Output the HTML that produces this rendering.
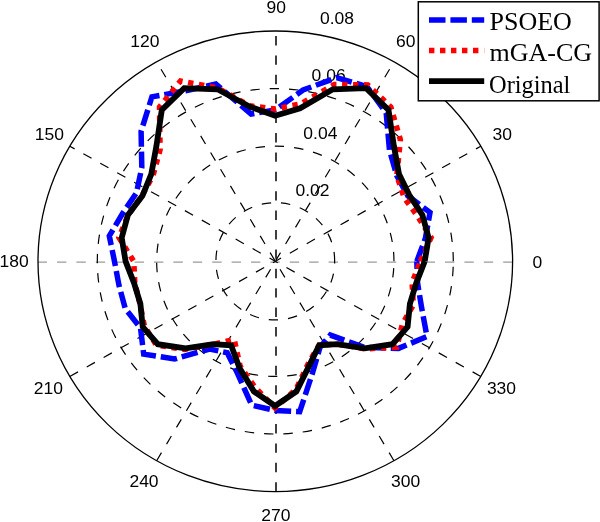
<!DOCTYPE html>
<html><head><meta charset="utf-8"><title>Polar plot</title>
<style>html,body{margin:0;padding:0;background:#fff;}body{width:600px;height:522px;overflow:hidden;}svg{display:block;}</style>
</head><body>
<svg width="600" height="522" viewBox="0 0 600 522">
<rect width="600" height="522" fill="#fff"/>
<g fill="none" stroke="#000" stroke-width="1.2" stroke-dasharray="9.4 10">
<path d="M334.62,261.30A59.33,57.58 0 1 0 215.98,261.30A59.33,57.58 0 1 0 334.62,261.30"/>
<path d="M393.95,261.30A118.65,115.15 0 1 0 156.65,261.30A118.65,115.15 0 1 0 393.95,261.30"/>
<path d="M453.28,261.30A177.98,172.73 0 1 0 97.32,261.30A177.98,172.73 0 1 0 453.28,261.30"/>
<line x1="69.79" y1="376.45" x2="480.81" y2="146.15"/>
<line x1="156.65" y1="460.75" x2="393.95" y2="61.85"/>
<line x1="276.00" y1="491.60" x2="276.00" y2="31.00" stroke-width="1.5"/>
<line x1="393.95" y1="460.75" x2="156.65" y2="61.85"/>
<line x1="480.81" y1="376.45" x2="69.79" y2="146.15"/>
<line x1="512.60" y1="262.10" x2="38.00" y2="262.10" stroke-width="0.5"/>
</g>
<ellipse cx="275.3" cy="261.3" rx="237.30" ry="230.30" fill="none" stroke="#000" stroke-width="1.3"/>
<g font-family="Liberation Sans, Arial, sans-serif" font-size="17" text-anchor="middle" fill="#000">
<text x="276.35" y="12.70" transform="translate(276.35 0) scale(1.03 1) translate(-276.35 0)">90</text>
<text x="405.70" y="47.20" transform="translate(405.70 0) scale(1.03 1) translate(-405.70 0)">60</text>
<text x="144.80" y="47.10" transform="translate(144.80 0) scale(1.03 1) translate(-144.80 0)">120</text>
<text x="502.20" y="140.30" transform="translate(502.20 0) scale(1.03 1) translate(-502.20 0)">30</text>
<text x="49.30" y="139.60" transform="translate(49.30 0) scale(1.03 1) translate(-49.30 0)">150</text>
<text x="14.10" y="267.50" transform="translate(14.10 0) scale(1.03 1) translate(-14.10 0)">180</text>
<text x="537.35" y="267.70" transform="translate(537.35 0) scale(1.03 1) translate(-537.35 0)">0</text>
<text x="48.45" y="394.30" transform="translate(48.45 0) scale(1.03 1) translate(-48.45 0)">210</text>
<text x="501.50" y="394.30" transform="translate(501.50 0) scale(1.03 1) translate(-501.50 0)">330</text>
<text x="144.00" y="486.70" transform="translate(144.00 0) scale(1.03 1) translate(-144.00 0)">240</text>
<text x="405.65" y="486.70" transform="translate(405.65 0) scale(1.03 1) translate(-405.65 0)">300</text>
<text x="275.85" y="521.20" transform="translate(275.85 0) scale(1.03 1) translate(-275.85 0)">270</text>
<text x="337.00" y="24.40" transform="translate(337.00 0) scale(1.03 1) translate(-337.00 0)">0.08</text>
<text x="328.65" y="81.30" transform="translate(328.65 0) scale(1.03 1) translate(-328.65 0)">0.06</text>
<text x="320.35" y="138.70" transform="translate(320.35 0) scale(1.03 1) translate(-320.35 0)">0.04</text>
<text x="312.50" y="196.00" transform="translate(312.50 0) scale(1.03 1) translate(-312.50 0)">0.02</text>
</g>
<polyline points="416.8,261.4 425.4,238.3 430.0,212.5 407.8,195.8 396.8,175.6 389.5,150.4 386.2,112.9 366.9,86.5 336.7,77.6 303.1,90.0 275.1,110.0 251.1,114.0 215.8,84.1 185.6,90.8 151.9,96.8 141.1,131.3 141.8,167.4 136.5,192.8 122.7,213.3 109.3,235.9 114.5,261.4 119.0,285.4 125.3,308.7 140.5,328.0 143.7,354.1 174.6,359.0 209.6,349.0 227.2,352.7 237.6,373.6 251.7,405.1 275.1,410.4 299.7,411.7 312.5,373.0 320.1,347.1 330.3,335.1 363.6,347.2 398.5,348.4 427.0,336.5 421.6,307.6 417.6,283.3 416.8,261.4" fill="none" stroke="#0000ff" stroke-width="5.5" stroke-dasharray="16.5 4.9" stroke-linejoin="miter"/>
<polyline points="420.4,261.4 431.1,237.4 417.7,216.4 404.1,197.6 396.8,175.6 400.4,139.8 390.8,106.9 367.8,84.9 334.4,84.5 300.8,103.9 275.1,109.0 249.8,105.8 217.1,87.8 180.5,81.0 159.5,106.9 160.1,149.7 153.1,175.3 142.1,195.6 128.2,215.0 118.9,237.4 133.8,261.4 134.8,283.0 140.0,304.0 144.4,326.1 156.4,345.2 184.5,349.4 213.1,344.3 234.2,339.4 240.1,366.0 254.7,386.9 275.1,408.0 296.0,389.3 308.9,362.2 319.1,345.2 336.9,343.9 365.2,348.9 396.8,347.2 402.3,324.3 413.3,305.0 412.1,282.5 420.4,261.4" fill="none" stroke="#ff0000" stroke-width="5.5" stroke-dasharray="5.4 5.6" stroke-linejoin="miter"/>
<polyline points="424.7,261.4 428.6,237.8 422.4,215.0 409.3,195.0 399.0,174.1 393.9,146.1 388.5,110.0 366.1,88.1 332.8,89.3 300.1,108.3 275.1,115.8 249.9,106.7 217.5,89.3 184.2,88.1 161.8,110.0 156.4,146.1 151.3,174.1 142.4,195.8 127.9,215.0 121.7,237.8 125.6,261.4 134.1,283.1 140.4,303.9 142.7,326.9 157.8,344.2 185.6,348.3 213.3,344.1 231.1,345.3 239.5,367.9 253.9,391.5 275.1,405.9 296.4,391.5 309.7,364.6 319.2,345.3 337.0,344.1 364.7,348.3 392.5,344.2 407.6,326.9 409.9,303.9 416.2,283.1 424.7,261.4" fill="none" stroke="#000" stroke-width="5.8" stroke-linejoin="miter"/>
<rect x="418.3" y="1.8" width="180.8" height="99" fill="#fff" stroke="#000" stroke-width="1.5"/>
<line x1="429.0" y1="19.95" x2="484.2" y2="19.95" stroke="#0000ff" stroke-width="5.5" stroke-dasharray="16.5 4.9"/>
<line x1="429.0" y1="50.5" x2="484.2" y2="50.5" stroke="#ff0000" stroke-width="5.5" stroke-dasharray="5.4 5.6"/>
<line x1="429.0" y1="81.2" x2="484.2" y2="81.2" stroke="#000" stroke-width="5.8"/>
<g font-family="Liberation Serif, Times New Roman, serif" font-size="26" fill="#000">
<text id="t1" x="489.5" y="29.6" >PSOEO</text>
<text id="t2" x="489.5" y="61.0" >mGA-CG</text>
<text id="t3" x="489.0" y="92.7" textLength="81.4" lengthAdjust="spacingAndGlyphs">Original</text>
</g>
</svg>
</body></html>
